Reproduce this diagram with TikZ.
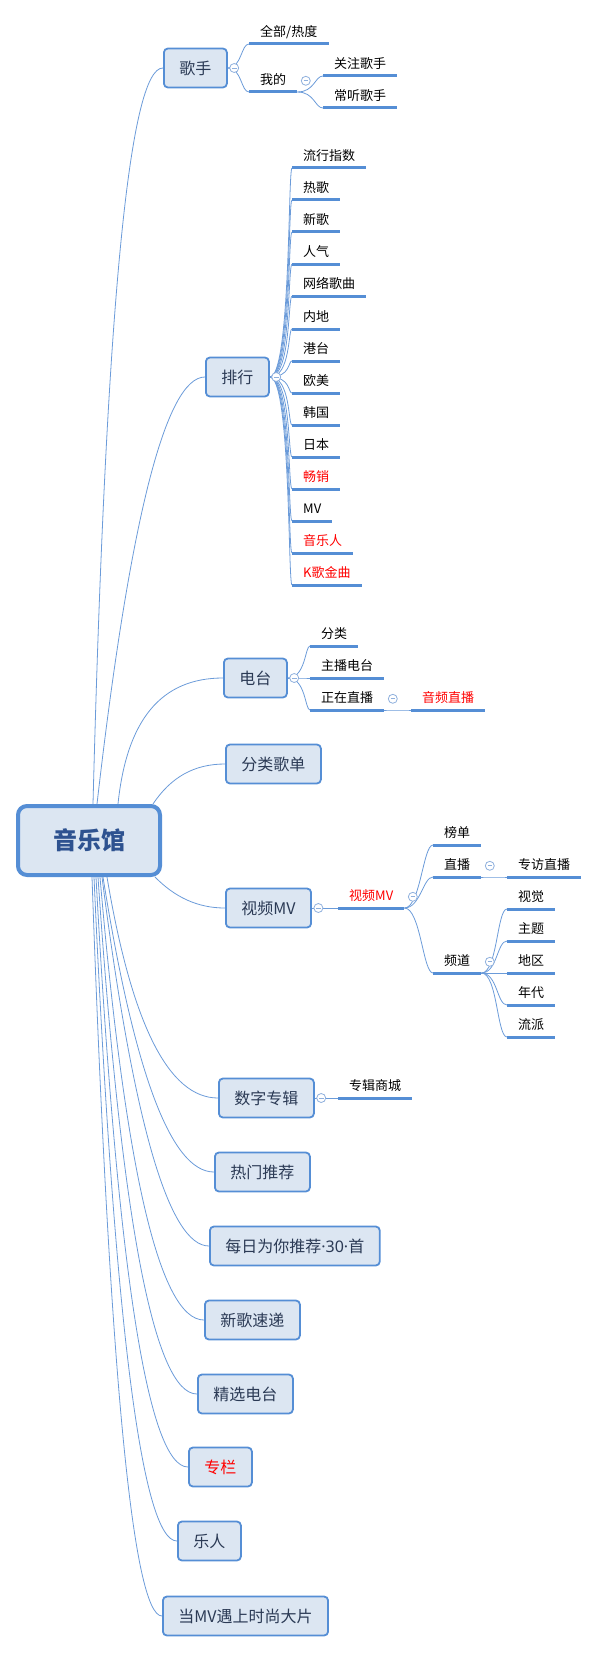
\documentclass[tikz,border=0pt]{standalone}
\usepackage{fontspec}
\setmainfont{Noto Sans CJK SC}
\newfontfamily\latinfont{Noto Sans}
\usetikzlibrary{positioning, backgrounds}

\definecolor{boxfill}{HTML}{DCE6F2}
\definecolor{boxline}{HTML}{558ED5}
\definecolor{branchline}{HTML}{6B9BD9}
\definecolor{topictext}{HTML}{2B3A55}
\definecolor{roottext}{HTML}{2E5290}
\definecolor{foldline}{HTML}{8FB0DD}

\tikzset{
  root/.style={draw=boxline, line width=4pt, fill=boxfill, rounded corners=9pt,
    minimum width=142pt, minimum height=69pt, text=roottext,
    font=\fontsize{24}{28}\selectfont\bfseries},
  topic/.style={draw=boxline, line width=1.8pt, fill=boxfill, rounded corners=4pt,
    minimum height=39pt, inner xsep=15.5pt, text=topictext, anchor=west,
    font=\fontsize{16}{19}\selectfont},
  uline/.style={draw=boxline, line width=3pt},
  leaf/.style={anchor=south west, inner xsep=11pt, inner ysep=5pt,
    text height=10pt, text depth=2pt, font=\fontsize{13}{15}\selectfont,
    append after command={(\tikzlastnode.south west) edge[uline] (\tikzlastnode.south east)}},
  hot/.style={text=red},
  trunk/.style={draw=branchline, line width=0.8pt},
  fold/.style={circle, draw=foldline, line width=0.8pt, fill=white,
    minimum size=9pt, inner sep=0pt,
    path picture={\draw[foldline, line width=0.8pt]
      ([xshift=-2.3pt]path picture bounding box.center) --
      ([xshift=2.3pt]path picture bounding box.center);}},
}

\begin{document}
\begin{tikzpicture}[x=1pt, y=-1pt]
\useasboundingbox (0,0) rectangle (599,1653);

\node[root] (hall) at (89,840.5) {音乐馆};

% main topics
\node[topic] (singer) at (163,68) {歌手};
\node[topic] (rank) at (205,377) {排行};
\node[topic] (radio) at (223,678) {电台};
\node[topic] (sheet) at (225,764) {分类歌单};
\node[topic] (video) at (225,908) {视频MV};
\node[topic] (album) at (218,1098) {数字专辑};
\node[topic] (popular) at (214,1172) {热门推荐};
\node[topic] (daily) at (209,1246) {每日为你推荐{\latinfont ·30·}首};
\node[topic] (newsong) at (204,1320) {新歌速递};
\node[topic] (pick) at (197,1394) {精选电台};
\node[topic, hot] (column) at (188,1467) {专栏};
\node[topic] (artist) at (177,1541) {乐人};
\node[topic] (fashion) at (162,1616) {当MV遇上时尚大片};

\node[fold, right=1.5pt of singer] (singer-f) {};
\node[fold, right=1.5pt of rank] (rank-f) {};
\node[fold, right=1.5pt of radio] (radio-f) {};
\node[fold, right=1.5pt of video] (video-f) {};
\node[fold, right=1.5pt of album] (album-f) {};

% singer
\node[leaf] (all) at (249,44) {全部/热度};
\node[leaf] (mine) at (249,92) {我的};
\node[fold, right=3.5pt of mine] (mine-f) {};
\node[leaf] (follow) at (323,76) {关注歌手};
\node[leaf] (often) at (323,108) {常听歌手};

% rank
\node[leaf] (rank1) at (292,168) {流行指数};
\node[leaf] (rank2) at (292,200) {热歌};
\node[leaf] (rank3) at (292,232) {新歌};
\node[leaf] (rank4) at (292,264) {人气};
\node[leaf] (rank5) at (292,296) {网络歌曲};
\node[leaf] (rank6) at (292,329) {内地};
\node[leaf] (rank7) at (292,361) {港台};
\node[leaf] (rank8) at (292,393) {欧美};
\node[leaf] (rank9) at (292,425) {韩国};
\node[leaf] (rank10) at (292,457) {日本};
\node[leaf, hot] (rank11) at (292,489) {畅销};
\node[leaf] (rank12) at (292,521) {MV};
\node[leaf, hot] (rank13) at (292,553) {音乐人};
\node[leaf, hot] (rank14) at (292,585) {K歌金曲};

% radio
\node[leaf] (kind) at (310,646) {分类};
\node[leaf] (host) at (310,678) {主播电台};
\node[leaf] (live) at (310,710) {正在直播};
\node[fold, right=3.5pt of live] (live-f) {};
\node[leaf, hot] (audio) at (411,710) {音频直播};

% video
\node[leaf, hot] (mv) at (338,908) {视频MV};
\node[fold, right=3.5pt of mv] (mv-f) {};
\node[leaf] (chart) at (433,845) {榜单};
\node[leaf] (stream) at (433,877) {直播};
\node[fold, right=3.5pt of stream] (stream-f) {};
\node[leaf] (talk) at (507,877) {专访直播};
\node[leaf] (channel) at (433,973) {频道};
\node[fold, right=3.5pt of channel] (channel-f) {};
\node[leaf] (ch1) at (507,909) {视觉};
\node[leaf] (ch2) at (507,941) {主题};
\node[leaf] (ch3) at (507,973) {地区};
\node[leaf] (ch4) at (507,1005) {年代};
\node[leaf] (ch5) at (507,1037) {流派};

% album
\node[leaf] (shop) at (338,1098) {专辑商城};

\begin{scope}[on background layer]
    \path[trunk] ([xshift=4pt]hall.north) .. controls (105.7,312.7) and (129,67) .. (singer.west);
    \path[trunk] ([xshift=8pt]hall.north) .. controls (129.7,519.3) and (165.7,377) .. (rank.west);
    \path[trunk] ([xshift=29pt]hall.north) .. controls (126.7,720) and (161,678) .. (radio.west);
    \path[trunk] ([xshift=64pt]hall.north) .. controls (171,777) and (194.3,764) .. (sheet.west);
    \path[trunk] ([xshift=66pt]hall.south) .. controls (175,897.3) and (197.7,908) .. (video.west);
    \path[trunk] ([xshift=18pt]hall.south) .. controls (131.7,1024.3) and (168.7,1098) .. (album.west);
    \path[trunk] ([xshift=14pt]hall.south) .. controls (134.3,1073.7) and (171.3,1172) .. (popular.west);
    \path[trunk] ([xshift=13pt]hall.south) .. controls (133.3,1123) and (169,1246) .. (daily.west);
    \path[trunk] ([xshift=11pt]hall.south) .. controls (125.3,1172.3) and (160,1320) .. (newsong.west);
    \path[trunk] ([xshift=9pt]hall.south) .. controls (121.3,1221.7) and (154.3,1394) .. (pick.west);
    \path[trunk] ([xshift=7pt]hall.south) .. controls (117.3,1270.3) and (148,1467) .. (column.west);
    \path[trunk] ([xshift=5pt]hall.south) .. controls (114,1321.7) and (141.7,1541) .. (artist.west);
    \path[trunk] ([xshift=3pt]hall.south) .. controls (109.3,1369.7) and (132.7,1616) .. (fashion.west);
\end{scope}

\begin{scope}[on background layer,
              every edge/.style={trunk, out=0, in=180}]
    \path[out distance=14pt, in distance=8pt] (singer.east) edge (all.south west) edge (mine.south west);
    \path[out distance=17pt, in distance=8pt] (mine.south east) edge (follow.south west) edge (often.south west);

    \path[out distance=21pt, in distance=4pt] (rank.east)
        edge (rank1.south west) edge (rank2.south west) edge (rank3.south west)
        edge (rank4.south west) edge (rank5.south west) edge (rank6.south west)
        edge (rank7.south west) edge (rank8.south west) edge (rank9.south west)
        edge (rank10.south west) edge (rank11.south west) edge (rank12.south west)
        edge (rank13.south west) edge (rank14.south west);

    \path[out distance=18pt, in distance=5pt] (radio.east)
        edge (kind.south west) edge (host.south west) edge (live.south west);
    \path (live.south east) edge (audio.south west);

    \path (video.east) edge (mv.south west);
    \path[out distance=16pt, in distance=10pt] (mv.south east)
        edge (chart.south west) edge (stream.south west) edge (channel.south west);
    \path (stream.south east) edge (talk.south west);
    \path[out distance=16pt, in distance=10pt] (channel.south east)
        edge (ch1.south west) edge (ch2.south west) edge (ch3.south west)
        edge (ch4.south west) edge (ch5.south west);

    \path (album.east) edge (shop.south west);
\end{scope}
\end{tikzpicture}
\end{document}
